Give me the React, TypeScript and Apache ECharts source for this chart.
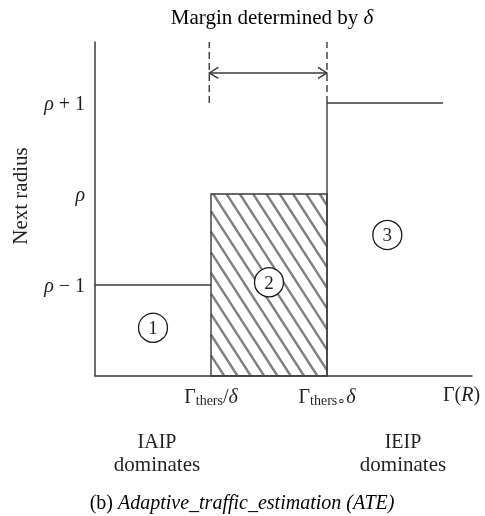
import React, { useEffect, useRef } from "react";
import * as echarts from "echarts";

// ---- data (axis units) ----
const yLevels = [1, 2, 3]; // rho-1, rho, rho+1
const yTickLabels = ["{i|ρ}{g| − 1}", "{i|ρ}", "{i|ρ}{g| + 1}"];
const xTickValues = [1, 2, 3.16];
const xTickLabels = ["{g|Γ}{s|thers}{g|/}{i|δ}", "{g|Γ}{s|thers∘}{i|δ}", "{g|Γ(}{i|R}{g|)}"];
const xMax = 3.25;
const yMax = 3.67;
const region1 = [[0, 1], [1, 1]];
const region2 = [[1, 2, 2]]; // x0, x1, height (hatched)
const region3 = [[2, 0], [2, 3], [3, 3]];
const dashedXs = [0.985, 2];
const dashedFrom = 3;
const arrowY = 3.33;
const circleMarks = [
  [0.5, 0.53, "1"],
  [1.5, 1.03, "2"],
  [2.52, 1.55, "3"],
];

const FONT = "'Liberation Serif', 'Times New Roman', serif";
const INK = "#231f20";
const LINE = "#3a3a3a";

const rich = {
  g: { fontFamily: FONT, fontSize: 20, color: INK },
  i: { fontFamily: FONT, fontSize: 20, color: INK, fontStyle: "italic" },
  s: { fontFamily: FONT, fontSize: 14, color: INK, padding: [9, 0, 0, 0] },
};

export default function App() {
  const ref = useRef<HTMLDivElement>(null);
  useEffect(() => {
    const chart = echarts.init(ref.current!, null, { renderer: "svg" });

    const dashedData: any[] = [];
    dashedXs.forEach((x, k) => {
      if (k > 0) dashedData.push([null, null]);
      dashedData.push([x, dashedFrom], [x, yMax]);
    });

    const plain = (text: string, x: number, y: number, size = 21) => ({
      type: "text",
      x,
      y,
      style: { text, font: `${size}px ${FONT}`, fill: INK, align: "center", verticalAlign: "middle" },
    });

    chart.setOption({
      animation: false,
      grid: { left: 95, top: 42, width: 377, height: 334, containLabel: false },
      xAxis: {
        type: "value",
        min: 0,
        max: xMax,
        splitLine: { show: false },
        axisTick: { show: false },
        axisLine: { lineStyle: { color: LINE, width: 1.5 } },
        axisLabel: {
          customValues: xTickValues,
          margin: 8,
          formatter: (v: number) => {
            const idx = xTickValues.findIndex((t) => Math.abs(t - v) < 1e-6);
            return idx >= 0 ? xTickLabels[idx] : "";
          },
          rich,
        },
      },
      yAxis: {
        type: "value",
        min: 0,
        max: yMax,
        splitLine: { show: false },
        axisTick: { show: false },
        axisLine: { lineStyle: { color: LINE, width: 1.5 } },
        axisLabel: {
          customValues: yLevels,
          margin: 10,
          formatter: (v: number) => {
            const idx = yLevels.findIndex((t) => Math.abs(t - v) < 1e-6);
            return idx >= 0 ? yTickLabels[idx] : "";
          },
          rich,
        },
      },
      graphic: [
        {
          type: "text",
          x: 272,
          y: 17,
          style: {
            text: "{g|Margin determined by }{i|δ}",
            rich: {
              g: { fontFamily: FONT, fontSize: 21, color: INK },
              i: { fontFamily: FONT, fontSize: 21, color: INK, fontStyle: "italic" },
            },
            align: "center",
            verticalAlign: "middle",
          },
        },
        {
          type: "text",
          x: 20,
          y: 196,
          rotation: Math.PI / 2,
          style: {
            text: "Next radius",
            font: `21px ${FONT}`,
            fill: INK,
            align: "center",
            verticalAlign: "middle",
          },
        },
        plain("IAIP", 157, 441, 20),
        plain("dominates", 157, 464),
        plain("IEIP", 403, 441, 20),
        plain("dominates", 403, 464),
        {
          type: "text",
          x: 242,
          y: 502,
          style: {
            text: "{g|(b) }{i|Adaptive_traffic_estimation (ATE)}",
            rich: {
              g: { fontFamily: FONT, fontSize: 20, color: INK },
              i: { fontFamily: FONT, fontSize: 20, color: INK, fontStyle: "italic" },
            },
            align: "center",
            verticalAlign: "middle",
          },
        },
      ],
      series: [
        {
          type: "custom",
          data: region2,
          encode: { x: [0, 1], y: 2 },
          z: 2,
          renderItem: (params: any, api: any) => {
            const p0 = api.coord([api.value(0), 0]);
            const p1 = api.coord([api.value(1), api.value(2)]);
            const L = p0[0], R = p1[0], T = p1[1], B = p0[1];
            const s = 1 / 1.55; // dx per dy
            const gap = 13.3;
            const children: any[] = [];
            const aStart = L - (B - T) * s - gap;
            for (let a = aStart; a <= R + gap; a += gap) {
              const y1 = Math.max(T, T + (L - a) / s);
              const y2 = Math.min(B, T + (R - a) / s);
              if (y2 <= y1) continue;
              children.push({
                type: "line",
                shape: { x1: a + s * (y1 - T), y1, x2: a + s * (y2 - T), y2 },
                style: { stroke: "#6a6a6a", lineWidth: 2.4, opacity: 0.85 },
              });
            }
            children.push({
              type: "rect",
              shape: { x: L, y: T, width: R - L, height: B - T },
              style: { fill: "none", stroke: LINE, lineWidth: 1.4 },
            });
            return { type: "group", children };
          },
        },
        {
          type: "line",
          data: region1,
          symbol: "none",
          lineStyle: { color: LINE, width: 1.4 },
          z: 3,
        },
        {
          type: "line",
          data: region3,
          symbol: "none",
          lineStyle: { color: LINE, width: 1.4 },
          z: 3,
        },
        {
          type: "line",
          data: dashedData,
          symbol: "none",
          connectNulls: false,
          lineStyle: { color: LINE, width: 1.4, type: [7, 4] },
          z: 3,
        },
        {
          type: "custom",
          data: [[dashedXs[0], dashedXs[1], arrowY]],
          encode: { x: [0, 1], y: 2 },
          z: 3,
          renderItem: (params: any, api: any) => {
            const a = api.coord([api.value(0), api.value(2)]);
            const b = api.coord([api.value(1), api.value(2)]);
            const hl = 9, hw = 5.5;
            const st = { stroke: LINE, lineWidth: 1.4, fill: "none" };
            return {
              type: "group",
              children: [
                { type: "line", shape: { x1: a[0], y1: a[1], x2: b[0], y2: b[1] }, style: st },
                { type: "polyline", shape: { points: [[a[0] + hl, a[1] - hw], [a[0], a[1]], [a[0] + hl, a[1] + hw]] }, style: st },
                { type: "polyline", shape: { points: [[b[0] - hl, b[1] - hw], [b[0], b[1]], [b[0] - hl, b[1] + hw]] }, style: st },
              ],
            };
          },
        },
        {
          type: "scatter",
          data: circleMarks,
          symbol: "circle",
          symbolSize: 29,
          z: 5,
          itemStyle: { color: "#ffffff", borderColor: "#1a1a1a", borderWidth: 1.3, opacity: 1 },
          emphasis: { disabled: true },
          label: {
            show: true,
            position: "inside",
            formatter: (p: any) => p.data[2],
            fontFamily: FONT,
            fontSize: 19,
            color: INK,
          },
        },
      ],
    });
    return () => chart.dispose();
  }, []);
  return (
    <div
      ref={ref}
      style={{ position: "fixed", left: 0, top: 0, width: 485, height: 516 }}
    />
  );
}
